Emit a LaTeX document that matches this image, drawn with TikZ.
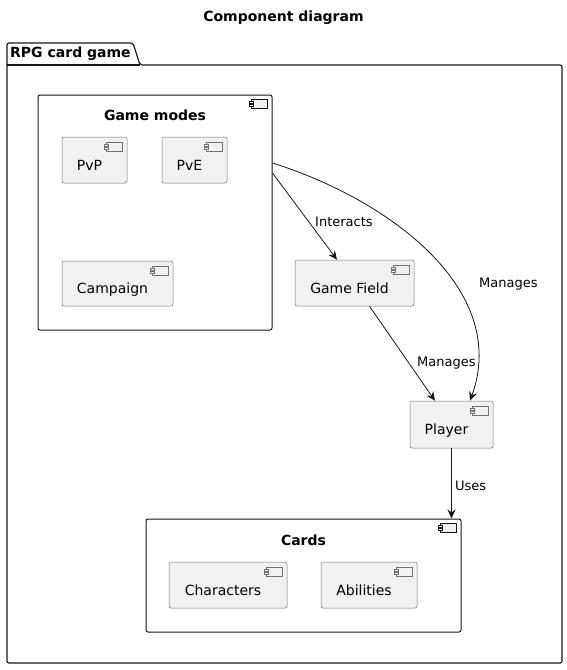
\documentclass[tikz,border=0pt]{standalone}
\usepackage{fontspec}
\setmainfont{DejaVu Sans}
\usetikzlibrary{arrows.meta}
\definecolor{umlfill}{HTML}{F1F1F1}
\definecolor{umlline}{HTML}{181818}
\begin{document}
\begin{tikzpicture}[x=1pt,y=-1pt,
                    leaf/.style = {draw=black!55, fill=umlfill, line width=0.5pt,
                    rounded corners=2pt, font=\fontsize{14}{16}\selectfont,
                    text height=20pt, text depth=0pt,
                    execute at end node=\hspace*{10pt}},
                    group/.style = {draw=umlline, fill=white, line width=1pt,
                    rounded corners=2pt},
                    heading/.style = {font=\bfseries\fontsize{14}{16}\selectfont},
                    lbl/.style = {font=\fontsize{13}{15}\selectfont, anchor=west, inner sep=0pt},
                    link/.style = {draw=umlline, line width=0.8pt,
                    -{Stealth[length=9pt,width=8pt,inset=3pt]}},
                    compicon/.pic = {
                      \draw[line width=0.5pt, fill=umlfill, pic actions] (0,0) rectangle (-16,9);
                      \draw[line width=0.5pt, fill=umlfill, pic actions] (-18,2) rectangle (-14,4);
                      \draw[line width=0.5pt, fill=umlfill, pic actions] (-18,5) rectangle (-14,7);
                    }]
  \useasboundingbox (0,0) rectangle (567,670);
  \node[heading] (title) at (283.5,18) {Component diagram};
  % package
  \draw[umlline, line width=1.2pt, rounded corners=2pt]
    (7,663) -- (7,43) -- (133,43) -- (140,65) -- (562,65) -- (562,663) -- cycle;
  \draw[umlline, line width=1.2pt] (7,65) -- (140,65);
  \node[heading, anchor=west, inner sep=0pt] (pkg) at (10,54) {RPG card game};
  % game modes
  \node[group, minimum width=234pt, minimum height=235pt] (gmodes) at (155,212.5) {};
  \node[heading] (gmodest) at (155,115) {Game modes};
  \node[leaf, minimum width=65pt, minimum height=46pt] (pvp) at (94.5,160) {PvP};
  \node[leaf, minimum width=65pt, minimum height=46pt] (pve) at (194.5,160) {PvE};
  \node[leaf, minimum width=111pt, minimum height=45pt] (campaign) at (117.5,283.5) {Campaign};
  % field and player
  \node[leaf, minimum width=119pt, minimum height=46pt] (field) at (354.5,283) {Game Field};
  \node[leaf, minimum width=83pt, minimum height=47pt] (player) at (451.5,424.5) {Player};
  % cards
  \node[group, minimum width=315pt, minimum height=113pt] (cards) at (303.5,575.5) {};
  \node[heading] (cardst) at (303.5,540) {Cards};
  \node[leaf, minimum width=118pt, minimum height=46pt] (chars) at (228,585) {Characters};
  \node[leaf, minimum width=96pt, minimum height=46pt] (abil) at (369,585) {Abilities};
  \foreach \n in {gmodes,cards}
    \pic[draw=umlline] at ([xshift=-5pt,yshift=-5pt]\n.north east) {compicon};
  \foreach \n in {pvp,pve,campaign,field,player,chars,abil}
    \pic[draw=black!55] at ([xshift=-5pt,yshift=-5pt]\n.north east) {compicon};
  % links
  \draw[link] ([yshift=39.5pt]gmodes.east) -- ([xshift=-17.5pt]field.north);
  \draw[link] ([yshift=49.5pt]gmodes.east) .. controls (390,200) and (510,290) .. ([xshift=18.5pt]player.north);
  \draw[link] ([xshift=15pt]field.south) -- ([xshift=-16.5pt]player.north);
  \draw[link] (player.south) -- (player.south |- cards.north);
  \node[lbl] (linteracts) at (315,222) {Interacts};
  \node[lbl] (lmanages) at (479,284) {Manages};
  \node[lbl] (lmanaged) at (417,363) {Manages};
  \node[lbl] (luses) at (455,486) {Uses};
\end{tikzpicture}
\end{document}
